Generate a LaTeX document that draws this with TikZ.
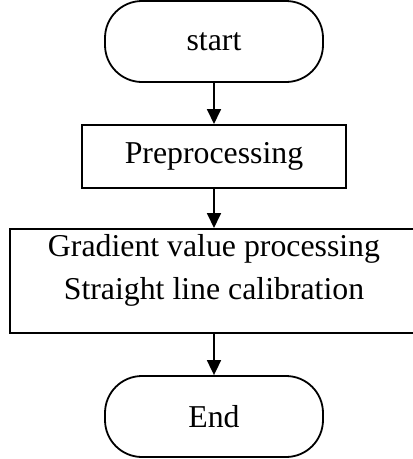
\documentclass[tikz,border=0pt]{standalone}
\usepackage{fontspec}
\setmainfont{Liberation Serif}
\usetikzlibrary{arrows.meta}
\begin{document}
\begin{tikzpicture}[x=1pt,y=-1pt,
  term/.style={draw, line width=1.8pt, rounded corners=37pt, minimum width=218pt, minimum height=81pt, inner sep=0pt, font=\fontsize{31.8}{43}\selectfont},
  procbox/.style={draw, line width=2pt, inner sep=0pt, font=\fontsize{31.8}{43}\selectfont},
  lbl/.style={font=\fontsize{31.8}{43}\selectfont, align=center, inner sep=0pt},
  arr/.style={line width=1.8pt, -{Triangle[width=14pt,length=15pt]}}]
\useasboundingbox (0,0) rectangle (413,459);
\node[term] (start) at (214,41.5) {start};
\node[procbox, minimum width=264pt, minimum height=63pt] (pre) at (214,156.5) {Preprocessing};
\node[procbox, minimum width=408pt, minimum height=104pt] (grad) at (214,281) {};
\node[lbl] (gradtxt) at (214,270) {Gradient value processing\\Straight line calibration};
\node[term] (end) at (214,416.5) {End};
\draw[arr] (start) -- (pre);
\draw[arr] (pre) -- (grad);
\draw[arr] (grad) -- (end);
\end{tikzpicture}
\end{document}
